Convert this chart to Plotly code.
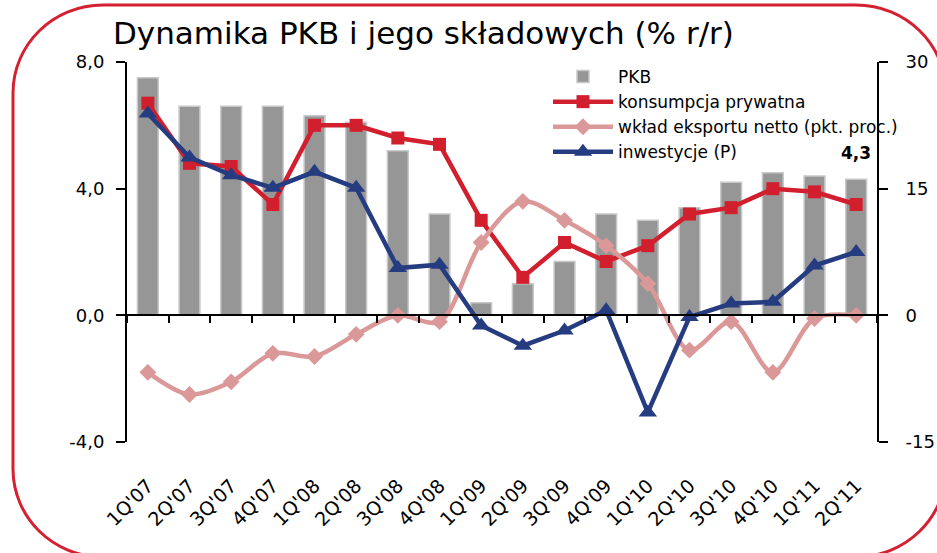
import plotly.graph_objects as go

quarters = ["1Q'07", "2Q'07", "3Q'07", "4Q'07", "1Q'08", "2Q'08", "3Q'08", "4Q'08",
            "1Q'09", "2Q'09", "3Q'09", "4Q'09", "1Q'10", "2Q'10", "3Q'10", "4Q'10",
            "1Q'11", "2Q'11"]
pkb = [7.5, 6.6, 6.6, 6.6, 6.3, 6.1, 5.2, 3.2, 0.4, 1.0, 1.7, 3.2, 3.0, 3.4, 4.2, 4.5, 4.4, 4.3]
konsumpcja = [6.7, 4.8, 4.7, 3.5, 6.0, 6.0, 5.6, 5.4, 3.0, 1.2, 2.3, 1.7, 2.2, 3.2, 3.4, 4.0, 3.9, 3.5]
eksport_netto = [-1.8, -2.5, -2.1, -1.2, -1.3, -0.6, 0.0, -0.2, 2.3, 3.6, 3.0, 2.2, 1.0, -1.1,
                 -0.2, -1.8, -0.1, 0.0]
inwestycje = [23.9, 18.7, 16.6, 15.1, 17.0, 15.1, 5.6, 6.0, -1.2, -3.6, -1.8, 0.6, -11.5, -0.2,
              1.4, 1.6, 5.9, 7.5]

left_ticks = [-4, 0, 4, 8]
left_tick_labels = ["-4,0", "0,0", "4,0", "8,0"]
right_ticks = [-15, 0, 15, 30]
right_tick_labels = ["-15", "0", "15", "30"]
last_label = "4,3"

title_text = "Dynamika PKB i jego składowych (% r/r)"

RED = "#D21F2E"
PINK = "#DB9898"
BLUE = "#263C80"
GRAY = "#969696"

# plot area in pixels
W, H = 937, 553
PL, PR, PT, PB = 127, 877, 62, 442


def fx(px):
    return (px - PL) / (PR - PL)


def fy(py):
    return (PB - py) / (PB - PT)


fig = go.Figure()

fig.add_trace(go.Bar(
    x=quarters, y=pkb, name="PKB", yaxis="y",
    marker=dict(color=GRAY, line=dict(color="#C8C8C8", width=1.5)),
    width=0.5,
))
fig.add_trace(go.Scatter(
    x=quarters, y=konsumpcja, name="konsumpcja prywatna", yaxis="y",
    mode="lines+markers",
    line=dict(color=RED, width=4.5),
    marker=dict(symbol="square", size=13, color=RED),
))
fig.add_trace(go.Scatter(
    x=quarters, y=eksport_netto, name="wkład eksportu netto (pkt. proc.)", yaxis="y",
    mode="lines+markers",
    line=dict(color=PINK, width=4.5, shape="spline", smoothing=0.9),
    marker=dict(symbol="diamond", size=13, color=PINK),
))
fig.add_trace(go.Scatter(
    x=quarters, y=inwestycje, name="inwestycje (P)", yaxis="y2",
    mode="lines+markers",
    line=dict(color=BLUE, width=4.5),
    marker=dict(symbol="triangle-up", size=16, color=BLUE),
))

# border with rounded corners
L, R, T, B = 13, 946, 5, 557
rx, ry = 90, 88
k = 0.5523
path = (
    f"M {fx(L)},{fy(T + ry)} "
    f"C {fx(L)},{fy(T + ry - k * ry)} {fx(L + rx - k * rx)},{fy(T)} {fx(L + rx)},{fy(T)} "
    f"L {fx(R - rx)},{fy(T)} "
    f"C {fx(R - rx + k * rx)},{fy(T)} {fx(R)},{fy(T + ry - k * ry)} {fx(R)},{fy(T + ry)} "
    f"L {fx(R)},{fy(B - ry)} "
    f"C {fx(R)},{fy(B - ry + k * ry)} {fx(R - rx + k * rx)},{fy(B)} {fx(R - rx)},{fy(B)} "
    f"L {fx(L + rx)},{fy(B)} "
    f"C {fx(L + rx - k * rx)},{fy(B)} {fx(L)},{fy(B - ry + k * ry)} {fx(L)},{fy(B - ry)} Z"
)
fig.add_shape(type="path", path=path, xref="paper", yref="paper",
              line=dict(color="#D42030", width=3), layer="below")

fig.add_annotation(text=title_text, xref="paper", yref="paper",
                   x=fx(423), y=fy(33), xanchor="center", yanchor="middle",
                   showarrow=False, font=dict(family="DejaVu Sans", size=31, color="black"))

fig.add_annotation(text=f"<b>{last_label}</b>", xref="paper", yref="paper",
                   x=fx(873), y=fy(153), xanchor="right", yanchor="middle",
                   showarrow=False, font=dict(family="DejaVu Sans", size=17, color="black"))

fig.update_layout(
    width=W, height=H,
    margin=dict(l=PL, r=W - PR, t=PT, b=H - PB, autoexpand=False),
    paper_bgcolor="white", plot_bgcolor="white",
    showlegend=True,
    bargap=0.5,
    legend=dict(x=fx(548), y=fy(59), xanchor="left", yanchor="top",
                bgcolor="rgba(0,0,0,0)", font=dict(family="DejaVu Sans", size=17, color="black"),
                itemwidth=60, tracegroupgap=0),
    xaxis=dict(type="category", categoryorder="array", categoryarray=quarters,
               range=[-0.5, len(quarters) - 0.5],
               showline=False, ticks="", tickangle=-45, showgrid=False, zeroline=False,
               tickfont=dict(family="DejaVu Sans", size=19, color="black"),
               ticklabelstandoff=28),
    xaxis2=dict(overlaying="x", anchor="free", position=fy(315), side="bottom",
                range=[-0.5, len(quarters) - 0.5], showline=True, linecolor="black", linewidth=2,
                ticks="outside", ticklen=7, tickwidth=2, tickcolor="black",
                tickmode="linear", tick0=0.5, dtick=1, showticklabels=False, showgrid=False,
                zeroline=False),
    yaxis=dict(range=[-4, 8], tickvals=left_ticks, ticktext=left_tick_labels,
               showline=True, linecolor="black", linewidth=2, ticks="outside", ticklen=9,
               tickwidth=2, tickcolor="black", showgrid=False, zeroline=False,
               tickfont=dict(family="DejaVu Sans", size=18, color="black"),
               ticklabelstandoff=8),
    yaxis2=dict(range=[-15, 30], tickvals=right_ticks, ticktext=right_tick_labels,
                overlaying="y", side="right", anchor="x",
                showline=True, linecolor="black", linewidth=2, ticks="outside", ticklen=9,
                tickwidth=2, tickcolor="black", showgrid=False, zeroline=False,
                tickfont=dict(family="DejaVu Sans", size=18, color="black"),
                ticklabelstandoff=14),
)

# invisible helper trace so the zero-line category axis (xaxis2) is drawn
fig.add_trace(go.Scatter(x=[0], y=[0], xaxis="x2", yaxis="y", mode="markers",
                         marker=dict(opacity=0), showlegend=False, hoverinfo="skip"))

fig.write_html("out.html", config={"displayModeBar": False},
               post_script="document.body.style.margin='0';")
